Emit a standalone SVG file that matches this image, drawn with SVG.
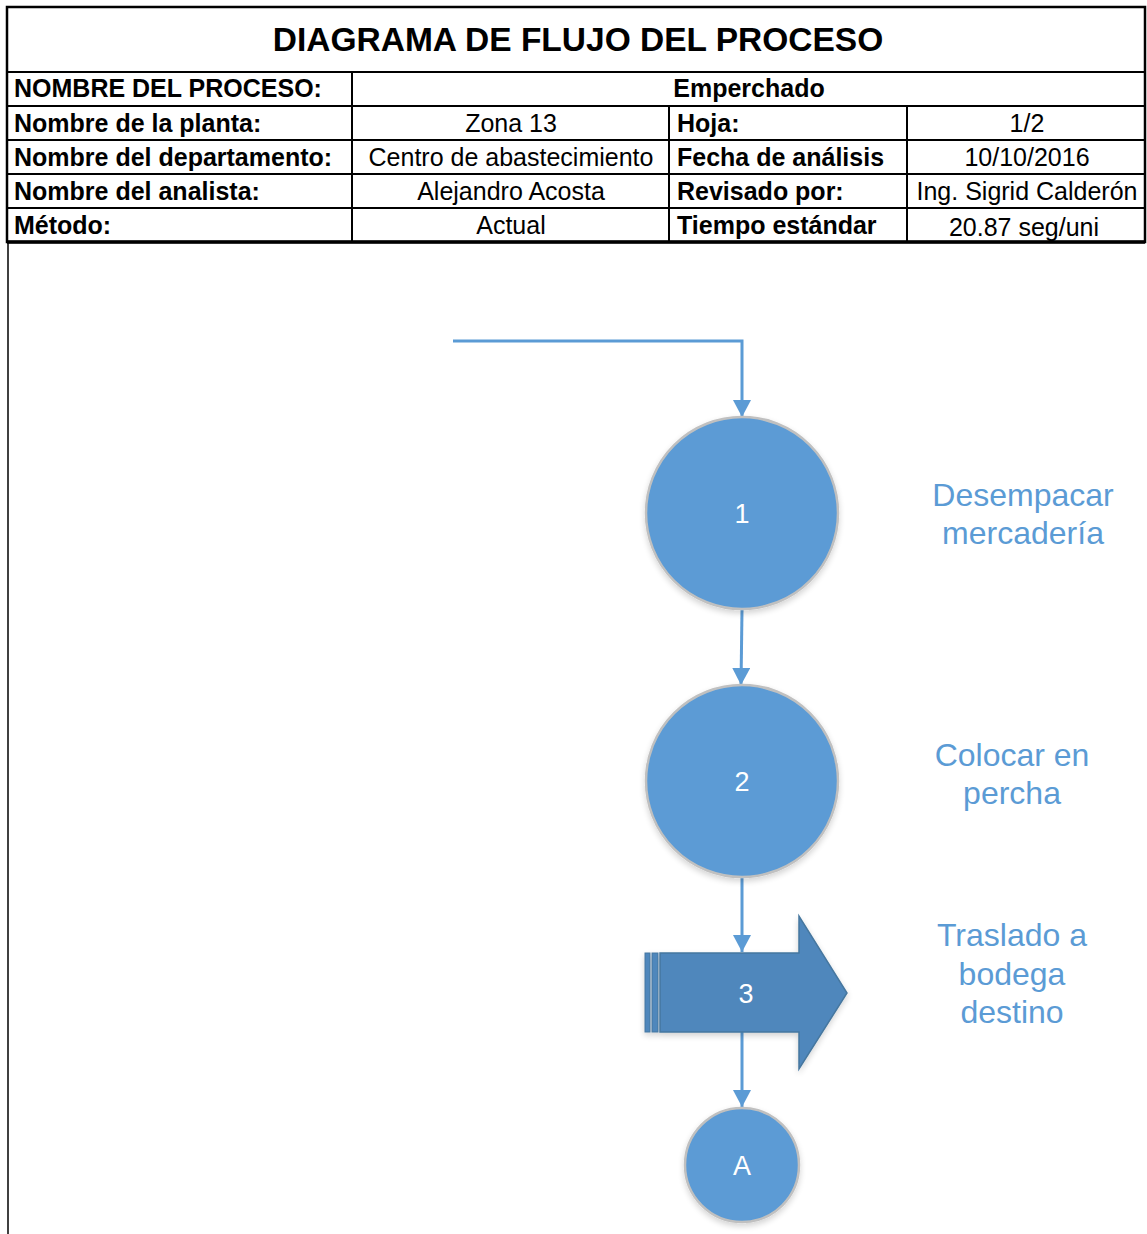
<svg xmlns="http://www.w3.org/2000/svg" width="1147" height="1234" viewBox="0 0 1147 1234">
<defs>
<style>
.t{font-family:"Liberation Sans",Arial,sans-serif;font-size:25px;fill:#000}
.b{font-weight:bold}
.m{text-anchor:middle}
.grid{stroke:#000;stroke-width:2;fill:none}
.conn{stroke:#5B9BD5;stroke-width:3;fill:none}
.node{fill:#5B9BD5;stroke:#C0C0C0;stroke-width:2.5}
.num{font-family:"Liberation Sans",Arial,sans-serif;font-size:27px;fill:#fff;text-anchor:middle}
.lbl{font-family:"Liberation Sans",Arial,sans-serif;font-size:32px;fill:#5B9BD5;text-anchor:middle}
</style>
<marker id="arr" viewBox="0 0 17 18" refX="17" refY="9" markerWidth="17" markerHeight="18" markerUnits="userSpaceOnUse" orient="auto">
<path d="M0,0 L17,9 L0,18 Z" fill="#5B9BD5"/>
</marker>
<filter id="sh" x="-20%" y="-20%" width="140%" height="140%">
<feGaussianBlur in="SourceAlpha" stdDeviation="3"/>
<feOffset dy="3"/>
<feComponentTransfer><feFuncA type="linear" slope="0.18"/></feComponentTransfer>
<feMerge><feMergeNode/><feMergeNode in="SourceGraphic"/></feMerge>
</filter>
</defs>
<rect width="1147" height="1234" fill="#fff"/>
<g id="table">
<line x1="8" y1="242" x2="8" y2="1234" stroke="#000" stroke-width="1.5"/>
<rect x="7" y="7" width="1138" height="235" fill="none" stroke="#000" stroke-width="2.5"/>
<line class="grid" x1="7" y1="72" x2="1145" y2="72"/>
<line class="grid" x1="7" y1="106" x2="1145" y2="106"/>
<line class="grid" x1="7" y1="140" x2="1145" y2="140"/>
<line class="grid" x1="7" y1="174" x2="1145" y2="174"/>
<line class="grid" x1="7" y1="208" x2="1145" y2="208"/>
<line x1="7" y1="242" x2="1145" y2="242" stroke="#000" stroke-width="3.5"/>
<line class="grid" x1="352" y1="72" x2="352" y2="242"/>
<line class="grid" x1="669" y1="106" x2="669" y2="242"/>
<line class="grid" x1="907" y1="106" x2="907" y2="242"/>
<text class="t b m" x="578" y="51" style="font-size:33.5px">DIAGRAMA DE FLUJO DEL PROCESO</text>
<text class="t b" x="14" y="97">NOMBRE DEL PROCESO:</text>
<text class="t b m" x="749" y="97">Emperchado</text>
<text class="t b" x="14" y="132">Nombre de la planta:</text>
<text class="t m" x="511" y="132">Zona 13</text>
<text class="t b" x="677" y="132">Hoja:</text>
<text class="t m" x="1027" y="132">1/2</text>
<text class="t b" x="14" y="166">Nombre del departamento:</text>
<text class="t m" x="511" y="166">Centro de abastecimiento</text>
<text class="t b" x="677" y="166">Fecha de análisis</text>
<text class="t m" x="1027" y="166">10/10/2016</text>
<text class="t b" x="14" y="200">Nombre del analista:</text>
<text class="t m" x="511" y="200">Alejandro Acosta</text>
<text class="t b" x="677" y="200">Revisado por:</text>
<text class="t m" x="1027" y="200">Ing. Sigrid Calderón</text>
<text class="t b" x="14" y="234">Método:</text>
<text class="t m" x="511" y="234">Actual</text>
<text class="t b" x="677" y="234">Tiempo estándar</text>
<text class="t m" x="1024" y="236">20.87 seg/uni</text>
</g>
<g id="connectors">
<path class="conn" d="M453,341 H742 V417" marker-end="url(#arr)"/>
<path class="conn" d="M742,610 L741,685" marker-end="url(#arr)"/>
<path class="conn" d="M742,877 V952" marker-end="url(#arr)"/>
<path class="conn" d="M742,1032 V1107" marker-end="url(#arr)"/>
</g>
<g id="node1">
<circle class="node" cx="742" cy="513" r="96" filter="url(#sh)"/>
<text class="num" x="742" y="523">1</text>
<text class="lbl" x="1023" y="506">Desempacar</text>
<text class="lbl" x="1023" y="544">mercadería</text>
</g>
<g id="node2">
<circle class="node" cx="742" cy="781" r="96" filter="url(#sh)"/>
<text class="num" x="742" y="791">2</text>
<text class="lbl" x="1012" y="766">Colocar en</text>
<text class="lbl" x="1012" y="804">percha</text>
</g>
<g id="node3">
<g filter="url(#sh)">
<path d="M660,953 H799 V916 L847,993 L799,1069 V1032 H660 Z" fill="#4F87BC" stroke="#46779F" stroke-width="1.5"/>
<rect x="645" y="953" width="5" height="79" fill="#4F87BC" stroke="#46779F" stroke-width="1"/>
<rect x="652" y="953" width="6" height="79" fill="#4F87BC" stroke="#46779F" stroke-width="1"/>
</g>
<text class="num" x="746" y="1003">3</text>
<text class="lbl" x="1012" y="946">Traslado a</text>
<text class="lbl" x="1012" y="985">bodega</text>
<text class="lbl" x="1012" y="1023">destino</text>
</g>
<g id="nodeA">
<circle class="node" cx="742" cy="1165" r="57" filter="url(#sh)"/>
<text class="num" x="742" y="1175">A</text>
</g>
</svg>
